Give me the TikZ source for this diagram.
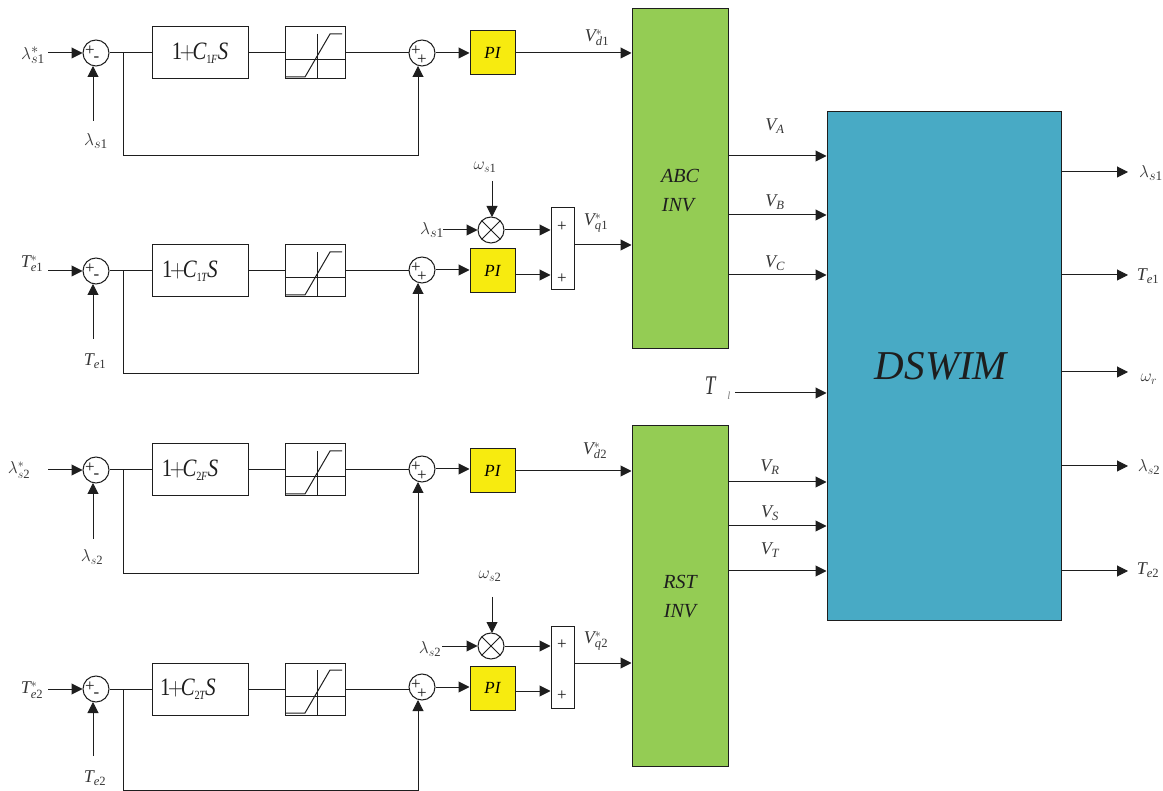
\documentclass[tikz,border=0pt]{standalone}
\usepackage{fontspec}
\usepackage{graphicx}
\setmainfont{Liberation Serif}
\usetikzlibrary{arrows.meta,calc}
\definecolor{invgreen}{RGB}{148,204,84}
\definecolor{motorblue}{RGB}{72,170,197}
\definecolor{piyellow}{RGB}{247,235,15}
\definecolor{ink}{RGB}{30,30,30}
\definecolor{labelink}{RGB}{55,55,55}
\newcommand{\ML}[1]{\mathit{#1}}
\newcommand{\MR}[1]{\mathrm{#1}}
\newcommand{\gainlabel}[2]{\scalebox{0.83}[1]{$\MR{1}\mkern-2mu{+}\mkern-2mu\ML{C}_{\scriptscriptstyle\MR{#1}\mkern-1mu\ML{#2}}\ML{S}$}}
\tikzset{
  wire/.style={draw=ink,line width=1pt},
  arr/.style={wire,-{Triangle[length=11pt,width=11pt]}},
  sumnode/.style={circle,draw=ink,line width=1pt,minimum size=26pt,inner sep=0pt,fill=white},
  gainbox/.style={rectangle,draw=ink,line width=1pt,minimum width=96pt,minimum height=52pt,inner sep=0pt},
  limbox/.style={rectangle,draw=ink,line width=1pt,minimum width=60pt,minimum height=52pt,inner sep=0pt},
  pibox/.style={rectangle,draw=ink,fill=piyellow,line width=1pt,minimum width=45pt,minimum height=44pt,inner sep=0pt,font=\fontsize{17}{19}\selectfont\itshape},
  addbox/.style={rectangle,draw=ink,line width=1pt,minimum width=23pt,minimum height=82pt,inner sep=0pt},
  invbox/.style={rectangle,draw=ink,fill=invgreen,line width=1pt,minimum width=96pt,minimum height=340pt,inner sep=0pt},
  lab/.style={inner sep=0pt,text=labelink,font=\fontsize{18}{20}\selectfont},
  biglab/.style={inner sep=0pt,text=labelink,font=\fontsize{19}{21}\selectfont},
  gaintext/.style={inner sep=0pt,text=ink,font=\fontsize{25}{27}\selectfont},
  signtext/.style={inner sep=0pt,text=ink,font=\fontsize{17}{17}\selectfont},
  invtext/.style={inner sep=0pt,text=ink,font=\fontsize{20}{22}\selectfont\itshape},
}
% id, y of row, y of second sum, x of gain text, gain text, y of PI centre
\newcommand{\ctrlrow}[6]{
  \node[sumnode] (s#1) at (96,#2) {};
  \node[signtext] (sp#1) at (90,#2-2) {+};
  \node[signtext] (sm#1) at (96.5,#2+6.5) {-};
  \node[gainbox] (g#1) at (200,#2) {};
  \node[gaintext] (gt#1) at (#4,#2) {#5};
  \node[limbox] (l#1) at (315,#2) {};
  \draw[wire] (285,#2+7) -- (345,#2+7);
  \draw[wire] (317,#2-19) -- (317,#2+26);
  \draw[wire] (286,#2+24) -- (305,#2+24) -- (330,#2-19) -- (342,#2-19);
  \node[sumnode] (t#1) at (422,#3) {};
  \node[signtext] (tp#1) at (416,#3-2) {+};
  \node[signtext] (tq#1) at (422,#3+7) {+};
  \node[pibox] (p#1) at (492.5,#6) {PI};
  \coordinate (j#1) at (123,#2);
  \draw[wire] (s#1.east) -- (g#1.west);
  \draw[wire] (g#1.east) -- (l#1.west);
  \draw[wire] (l#1.east) -- (l#1.east -| t#1.west);
  \draw[arr] (t#1.east) -- (t#1.east -| p#1.west);
}
\begin{document}
\begin{tikzpicture}[x=1pt,y=-1pt]
\useasboundingbox (0,-1) rectangle (1163,790);

% inverters and machine
\node[invbox] (abc) at (680,178) {};
\node[invbox] (rst) at (680,595) {};
\node[rectangle,draw=ink,fill=motorblue,line width=1pt,minimum width=234pt,minimum height=508pt,inner sep=0pt] (m) at (944,365) {};
\node[inner sep=0pt,text=ink,font=\fontsize{41}{44}\selectfont\itshape] (mt) at (941,365) {DSWIM};
\node[invtext] (abc1) at (680,175) {ABC};
\node[invtext] (abc2) at (678,204) {INV};
\node[invtext] (rst1) at (680,581) {RST};
\node[invtext] (rst2) at (680,610) {INV};

% rows
\ctrlrow{a}{52}{52}{200}{\gainlabel{1}{F}}{52}
\ctrlrow{b}{270}{269}{190}{\gainlabel{1}{T}}{270}
\ctrlrow{c}{469}{468}{190}{\gainlabel{2}{F}}{470}
\ctrlrow{d}{688}{686}{188}{\gainlabel{2}{T}}{687}

% left references
\node[biglab] (ra) at (33,54) {$\lambda^{*}_{s\MR{1}}$};
\node[lab] (rb) at (32,263) {$\ML{T}^{*}_{\ML{e}\MR{1}}$};
\node[lab] (rc) at (19,469) {$\lambda^{*}_{s\MR{2}}$};
\node[lab] (rd) at (32,689) {$\ML{T}^{*}_{\ML{e}\MR{2}}$};
\coordinate (ia) at (48,52);
\coordinate (ib) at (48,270);
\coordinate (ic) at (48,469);
\coordinate (id) at (48,688);
\foreach \k in {a,b,c,d} {\draw[arr] (i\k) -- (s\k.west);}

% feedback labels
\node[biglab] (fa) at (96,140) {$\lambda_{s\MR{1}}$};
\node[lab] (fb) at (95,360) {$\ML{T}_{\ML{e}\MR{1}}$};
\node[lab] (fc) at (92,556) {$\lambda_{s\MR{2}}$};
\node[lab] (fd) at (95,777) {$\ML{T}_{\ML{e}\MR{2}}$};
\draw[arr] (93,120) -- (93,65);
\draw[arr] (93,338) -- (93,283);
\draw[arr] (93,538) -- (93,482);
\draw[arr] (93,755) -- (93,701);

% feedback loops
\draw[arr] (ja) |- (418,155) -- (418,65);
\draw[arr] (jb) |- (418,373) -- (418,282);
\draw[arr] (jc) |- (418,573) -- (418,481);
\draw[arr] (jd) |- (418,789.5) -- (418,699);

% PI to inverter, row a and c
\draw[arr] (pa.east) -- (pa.east -| abc.west);
\draw[arr] (pc.east) -- (pc.east -| rst.west);
\node[lab] (vd1) at (597,37) {$\ML{V}^{*}_{\ML{d}\MR{1}}$};
\node[lab] (vd2) at (595,450) {$\ML{V}^{*}_{\ML{d}\MR{2}}$};

% q-axis branches
\node[sumnode,path picture={\draw[ink,line width=1pt] (path picture bounding box.north west) -- (path picture bounding box.south east) (path picture bounding box.north east) -- (path picture bounding box.south west);}] (xb) at (491,229) {};
\node[sumnode,path picture={\draw[ink,line width=1pt] (path picture bounding box.north west) -- (path picture bounding box.south east) (path picture bounding box.north east) -- (path picture bounding box.south west);}] (xd) at (491,645) {};
\node[addbox] (ab) at (562.5,248) {};
\node[addbox] (ad) at (562.5,666) {};
\node[signtext] (ab1) at (562,226) {+};
\node[signtext] (ab2) at (562,278) {+};
\node[signtext] (ad1) at (562,644) {+};
\node[signtext] (ad2) at (562,695) {+};
\node[biglab] (lb) at (432,229) {$\lambda_{s\MR{1}}$};
\node[lab] (ld) at (430,648) {$\lambda_{s\MR{2}}$};
\node[lab] (wb) at (485,166) {$\omega_{s\MR{1}}$};
\node[lab] (wd) at (490,575) {$\omega_{s\MR{2}}$};
\draw[arr] (443,229) -- (xb.west);
\draw[arr] (442,645) -- (xd.west);
\draw[arr] (492,180) -- (492,216);
\draw[arr] (492,596) -- (492,632);
\draw[arr] (xb.east) -- (xb.east -| ab.west);
\draw[arr] (xd.east) -- (xd.east -| ad.west);
\draw[arr] ([yshift=-4pt]pb.east) -- ([yshift=-4pt]pb.east -| ab.west);
\draw[arr] ([yshift=-3pt]pd.east) -- ([yshift=-3pt]pd.east -| ad.west);
\draw[arr] ([yshift=4pt]ab.east) -- ([yshift=4pt]ab.east -| abc.west);
\draw[arr] ([yshift=4pt]ad.east) -- ([yshift=4pt]ad.east -| rst.west);
\node[lab] (vq1) at (596,222) {$\ML{V}^{*}_{\ML{q}\MR{1}}$};
\node[lab] (vq2) at (596,640) {$\ML{V}^{*}_{\ML{q}\MR{2}}$};

% phase voltages
\coordinate (oa) at (728,155);
\coordinate (ob) at (728,214);
\coordinate (oc) at (728,274);
\coordinate (or) at (728,481);
\coordinate (os) at (728,525);
\coordinate (ot) at (728,570);
\foreach \k in {a,b,c,r,s,t} {\draw[arr] (o\k) -- (o\k -| m.west);}
\node[lab] (va) at (775,125) {$\ML{V}_{\ML{A}}$};
\node[lab] (vb) at (775,201) {$\ML{V}_{\ML{B}}$};
\node[lab] (vc) at (775,262) {$\ML{V}_{\ML{C}}$};
\node[lab] (vr) at (770,466) {$\ML{V}_{\ML{R}}$};
\node[lab] (vs) at (770,512) {$\ML{V}_{\ML{S}}$};
\node[lab] (vt) at (770,549) {$\ML{V}_{\ML{T}}$};

% load torque
\node[inner sep=0pt,text=labelink,font=\fontsize{27}{29}\selectfont\itshape] (tl) at (710,385) {\scalebox{0.7}[1]{T}};
\node[inner sep=0pt,text=gray,font=\fontsize{11}{12}\selectfont\itshape] (tls) at (729,395) {l};
\coordinate (tli) at (735,392);
\draw[arr] (tli) -- (tli -| m.west);

% machine outputs
\node[biglab] (ya) at (1151,172) {$\lambda_{s\MR{1}}$};
\node[lab] (yb) at (1148,275) {$\ML{T}_{\ML{e}\MR{1}}$};
\node[lab] (yc) at (1149,378) {$\omega_{r}$};
\node[lab] (yd) at (1149,466) {$\lambda_{s\MR{2}}$};
\node[lab] (ye) at (1148,569) {$\ML{T}_{\ML{e}\MR{2}}$};
\coordinate (ea) at (1128,171);
\coordinate (eb) at (1128,274);
\coordinate (ec) at (1128,371);
\coordinate (ed) at (1128,465);
\coordinate (ee) at (1128,570);
\foreach \k in {a,b,c,d,e} {\draw[arr] (e\k -| m.east) -- (e\k);}
\end{tikzpicture}
\end{document}
